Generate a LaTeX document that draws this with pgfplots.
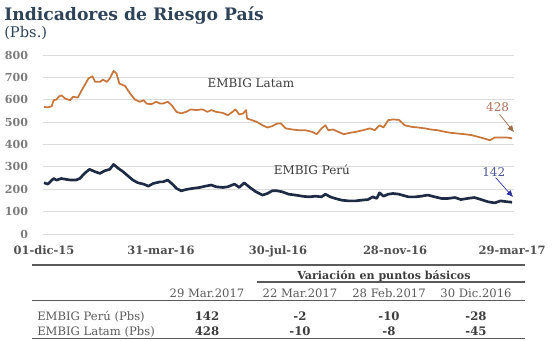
\documentclass[border=0pt]{standalone}
\usepackage{pgfplots}
\pgfplotsset{compat=1.18}
\usepackage{fontspec}
\setmainfont{DejaVu Serif}
\usetikzlibrary{arrows.meta}
\definecolor{latam}{HTML}{C8773C}
\definecolor{peru}{HTML}{1E2B45}
\definecolor{titlec}{HTML}{2E4358}
\definecolor{gridc}{HTML}{DCDCDC}
\definecolor{xtc}{HTML}{505050}
\definecolor{ytc}{HTML}{7A7A7A}
\definecolor{tabc}{HTML}{5A5A5A}
\definecolor{numc}{HTML}{3C3C3C}
\definecolor{lab428}{HTML}{B0705A}
\definecolor{lab142}{HTML}{4A5598}
\definecolor{arr142}{HTML}{2A2F9A}
\definecolor{arr428}{HTML}{A8602E}

\pgfplotstableread{
d v
0 568
4 566
8 571
10 598
13 601
15 613
18 620
22 605
27 598
30 613
35 610
40 650
46 695
50 705
53 680
58 680
61 690
65 680
68 695
72 729
75 717
78 672
84 661
89 628
94 601
99 591
103 598
106 583
111 580
116 591
120 583
123 583
128 591
132 576
137 546
142 539
147 546
152 557
157 554
164 557
169 546
173 554
178 546
185 541
190 531
195 546
198 557
202 534
206 539
209 554
210 516
215 509
220 501
226 486
231 476
236 482
241 494
245 494
250 472
257 467
263 464
270 464
277 457
282 446
287 472
291 486
294 464
299 467
304 457
310 446
316 452
323 457
330 464
337 472
342 464
347 486
351 476
356 509
361 512
367 510
373 486
380 479
387 476
394 472
400 467
407 464
414 457
421 452
428 449
435 446
442 442
449 434
455 427
461 419
466 431
472 431
479 431
484 428
}\latamdata

\pgfplotstableread{
d v
0 229
4 223
10 248
13 241
18 248
23 244
28 241
33 241
37 248
42 271
47 289
53 278
58 271
63 283
68 289
72 311
77 293
82 278
87 259
92 241
97 229
103 223
108 214
113 226
120 233
123 233
128 241
132 226
137 204
142 193
147 199
154 204
161 208
167 214
173 219
178 211
185 208
190 211
197 223
202 208
207 229
212 211
219 189
226 174
231 181
236 193
241 193
246 189
253 178
260 174
267 169
274 166
281 169
287 166
291 178
296 166
301 159
308 151
315 148
322 148
328 151
335 154
340 166
344 159
347 184
351 169
356 178
361 181
367 178
370 174
377 166
384 166
390 169
397 174
404 166
411 159
418 159
425 163
431 154
438 159
445 163
452 154
459 144
466 139
472 148
479 144
484 142
}\perudata

\begin{document}
\begin{tikzpicture}
\path[use as bounding box] (0,0) rectangle (414.75pt,255pt);
\begin{axis}[
  at={(32.25pt,79.5pt)}, anchor=south west,
  scale only axis, width=353.25pt, height=134.25pt,
  xmin=-1, xmax=486, ymin=0, ymax=800,
  axis line style={draw=none},
  ytick={0,100,...,800},
  xtick={0,121,242,363,484},
  xticklabels={01-dic-15,31-mar-16,30-jul-16,28-nov-16,29-mar-17},
  ymajorgrids,
  grid style={draw=gridc, line width=0.7pt},
  major tick length=0pt,
  tick style={draw=none},
  /pgf/number format/assume math mode=true,
  xticklabel style={font=\bfseries\fontsize{8.6}{10}\selectfont, text=xtc, anchor=north, inner sep=0pt, yshift=-8.6pt},
  yticklabel style={font=\bfseries\fontsize{8.3}{10}\selectfont, text=ytc, anchor=east, inner sep=0pt, xshift=-11pt},
  clip=false,
]
\addplot[latam, line width=1.3pt, line join=round] table[x=d,y=v] {\latamdata};
\addplot[peru, line width=2pt, line join=round] table[x=d,y=v] {\perudata};
\node[font=\fontsize{9}{11}\selectfont, text=numc] at (axis cs:214,676) {EMBIG Latam};
\node[font=\fontsize{9}{11}\selectfont, text=numc] at (axis cs:277,286) {EMBIG Perú};
\node[font=\fontsize{9}{11}\selectfont, text=lab428] at (axis cs:469,567) {428};
\node[font=\fontsize{9}{11}\selectfont, text=lab142] at (axis cs:465,277) {142};
\draw[arr428!70!gray, line width=0.5pt, -{Latex[length=5pt,width=4.5pt]}] (axis cs:471,535) -- (axis cs:486,455);
\draw[arr142, line width=0.5pt, -{Latex[length=5pt,width=4.5pt]}] (axis cs:467,252) -- (axis cs:485,165);
\end{axis}
\begin{scope}[x=0.75pt,y=-0.75pt,yshift=255pt]
\node[anchor=base west, inner sep=0pt, font=\bfseries\fontsize{12.9}{15}\selectfont, text=titlec] at (4,20) {Indicadores de Riesgo País};
\node[anchor=base west, inner sep=0pt, font=\fontsize{11}{13}\selectfont, text=titlec] at (4,38) {(Pbs.)};
% rules
\draw[tabc, line width=0.8pt] (32,265) -- (525,265);
\draw[tabc, line width=0.8pt] (257,282) -- (525,282);
\draw[tabc, line width=0.8pt] (32,300.5) -- (525,300.5);
\draw[tabc, line width=0.8pt] (32,338.5) -- (525,338.5);
\node[anchor=base, inner sep=0pt, font=\bfseries\fontsize{8.3}{10}\selectfont, text=numc] at (384,279) {Variación en puntos básicos};
\begin{scope}[every node/.style={anchor=base, inner sep=0pt, font=\fontsize{8.7}{10}\selectfont, text=tabc}]
\node at (207,297) {29 Mar.2017};
\node at (300,297) {22 Mar.2017};
\node at (389,297) {28 Feb.2017};
\node at (476,297) {30 Dic.2016};
\node[anchor=base west] at (37,320) {EMBIG Perú (Pbs)};
\node[anchor=base west] at (37,335) {EMBIG Latam (Pbs)};
\end{scope}
\begin{scope}[every node/.style={anchor=base, inner sep=0pt, font=\bfseries\fontsize{8.8}{10}\selectfont, text=numc}]
\node at (207,320) {142};
\node at (300,320) {-2};
\node at (389,320) {-10};
\node at (476,320) {-28};
\node at (207,335) {428};
\node at (300,335) {-10};
\node at (389,335) {-8};
\node at (476,335) {-45};
\end{scope}
\end{scope}
\end{tikzpicture}
\end{document}
